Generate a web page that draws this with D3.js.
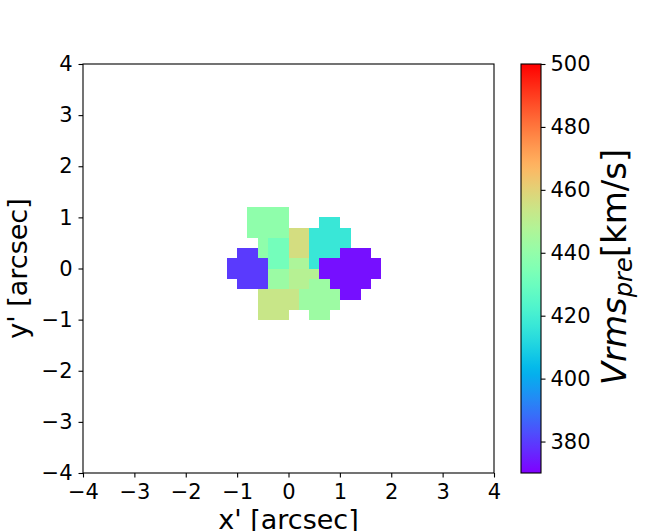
<!DOCTYPE html>
<html>
<head>
<meta charset="utf-8">
<script src="https://cdn.jsdelivr.net/npm/d3@7"></script>
<style>
  body { margin: 0; background: #fff; }
  svg { font-family: "DejaVu Sans", sans-serif; }
</style>
</head>
<body>
<svg id="canvas"></svg>
<script>
// pixel map: cell centres (arcsec) and which bin each cell belongs to
const xCenters = [-1.1, -0.9, -0.7, -0.5, -0.3, -0.1, 0.1, 0.3, 0.5, 0.7, 0.9, 1.1, 1.3, 1.5, 1.7];
const yCenters = [1.1, 0.9, 0.7, 0.5, 0.3, 0.1, -0.1, -0.3, -0.5, -0.7, -0.9];
const binMap = [
  '..AAAA.........',
  '..AAAA...CC....',
  '..AAAAKKCCCC...',
  '...AMMKKCCCC...',
  '.BBAMMKKCCCPPP.',
  'BBBBMMLLCPPPPPP',
  'BBBBGGlllPPPPPP',
  '.BBBGGllHHPPPP.',
  '...YYYYHHHHPP..',
  '...YYYYHHHH....',
  '...YYY..HH.....'
];
// Vrms_pre of each bin [km/s]
const binIds    = ['P',   'B',   'C', 'M', 'A', 'G', 'H',   'L',   'l', 'Y',   'K'];
const binValues = [372.5, 379.5, 417, 432, 439, 442, 442.5, 446.5, 449, 453.5, 456.5];

const axisTicks = [-4, -3, -2, -1, 0, 1, 2, 3, 4];
const cbarTicks = [380, 400, 420, 440, 460, 480, 500];
const vmin = 370, vmax = 500;

let width = 663;
let height = 531;
let padLeft = 83, padTop = 64, plotW = 411, plotH = 409;
let cell = 0.2;
let tickFont = 21;

let canvas = d3.select('#canvas').attr('width', width).attr('height', height);

// matplotlib "rainbow"
let rainbow = t => {
  let r = Math.abs(2 * t - 0.5), g = Math.sin(Math.PI * t), b = Math.cos(Math.PI * t / 2);
  return d3.rgb(255 * Math.min(1, r), 255 * g, 255 * b).toString();
};
let color = d3.scaleSequential(rainbow).domain([vmin, vmax]);

let xScale = d3.scaleLinear().domain([-4, 4]).range([padLeft, padLeft + plotW]);
let yScale = d3.scaleLinear().domain([-4, 4]).range([padTop + plotH, padTop]);

let cells = [];
binMap.forEach((row, j) => {
  row.split('').forEach((ch, i) => {
    let k = binIds.indexOf(ch);
    if (k >= 0) cells.push({x: xCenters[i], y: yCenters[j], v: binValues[k]});
  });
});

canvas.append('g').
attr('shape-rendering', 'crispEdges').
selectAll('rect').
data(cells).
enter().
append('rect').
attr('x', d => xScale(d.x - cell / 2)).
attr('y', d => yScale(d.y + cell / 2)).
attr('width', d => xScale(d.x + cell / 2) - xScale(d.x - cell / 2) + 0.5).
attr('height', d => yScale(d.y - cell / 2) - yScale(d.y + cell / 2) + 0.5).
attr('fill', d => color(d.v));

let fmt = d => (d < 0 ? '\u2212' + Math.abs(d) : '' + d);

let xAxis = d3.axisBottom(xScale).tickValues(axisTicks).tickFormat(fmt).tickSize(4.5).tickPadding(6);
let yAxis = d3.axisLeft(yScale).tickValues(axisTicks).tickFormat(fmt).tickSize(4.5).tickPadding(6);

let gx = canvas.append('g').attr('transform', 'translate(0,' + (padTop + plotH) + ')').call(xAxis);
let gy = canvas.append('g').attr('transform', 'translate(' + padLeft + ',0)').call(yAxis);
[gx, gy].forEach(g => {
  g.select('.domain').remove();
  g.selectAll('text').attr('font-size', tickFont).attr('fill', '#000').attr('font-family', 'DejaVu Sans');
  g.selectAll('line').attr('stroke', '#000').attr('stroke-width', 1.1);
});
gx.selectAll('text').attr('dy', '0.72em');

canvas.append('rect').
attr('x', padLeft).attr('y', padTop).attr('width', plotW).attr('height', plotH).
attr('fill', 'none').attr('stroke', '#000').attr('stroke-width', 1.1);

canvas.append('text').
attr('x', xScale(0)).attr('y', 529).
attr('text-anchor', 'middle').attr('font-size', 27).
text("x' [arcsec]");

canvas.append('text').
attr('transform', 'translate(27,' + yScale(0) + ') rotate(-90)').
attr('text-anchor', 'middle').attr('font-size', 27).
text("y' [arcsec]");

// colour bar
let cbLeft = 521, cbW = 20;
let cScale = d3.scaleLinear().domain([vmin, vmax]).range([padTop + plotH, padTop]);

let grad = canvas.append('defs').append('linearGradient').
attr('id', 'cbgrad').attr('x1', 0).attr('y1', 1).attr('x2', 0).attr('y2', 0);
d3.range(0, 1.0001, 0.02).forEach(t => {
  grad.append('stop').attr('offset', t).attr('stop-color', rainbow(t));
});

canvas.append('rect').
attr('x', cbLeft).attr('y', padTop).attr('width', cbW).attr('height', plotH).
attr('fill', 'url(#cbgrad)').attr('stroke', '#000').attr('stroke-width', 1.1);

let cAxis = d3.axisRight(cScale).tickValues(cbarTicks).tickSize(4.5).tickPadding(5);
let gc = canvas.append('g').attr('transform', 'translate(' + (cbLeft + cbW) + ',0)').call(cAxis);
gc.select('.domain').remove();
gc.selectAll('text').attr('font-size', tickFont).attr('fill', '#000').attr('font-family', 'DejaVu Sans');
gc.selectAll('line').attr('stroke', '#000').attr('stroke-width', 1.1);

let cbLabel = canvas.append('text').
attr('transform', 'translate(626,' + 267 + ') rotate(-90)').
attr('text-anchor', 'middle').attr('font-size', 34);
cbLabel.append('tspan').attr('font-style', 'italic').text('Vrms');
cbLabel.append('tspan').attr('font-style', 'italic').attr('font-size', 24).attr('dy', 6).text('pre');
cbLabel.append('tspan').attr('dy', -6).text('[km/s]');
</script>
</body>
</html>
